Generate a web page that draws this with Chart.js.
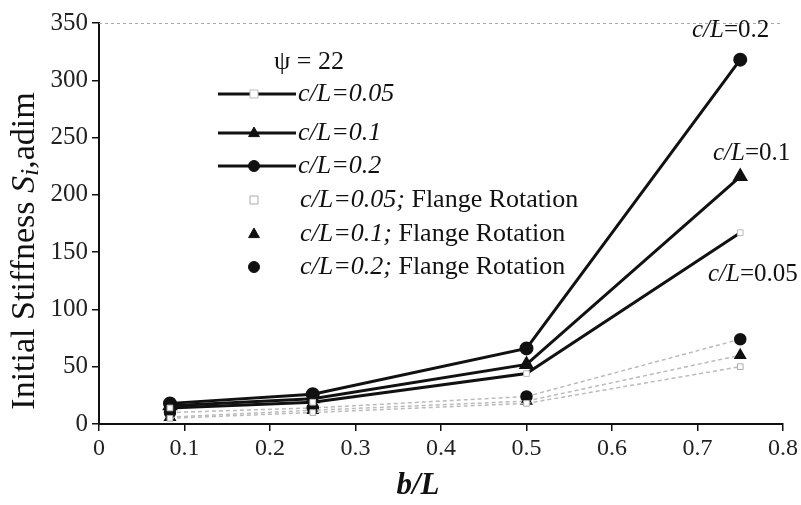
<!DOCTYPE html>
<html>
<head>
<meta charset="utf-8">
<script src="https://cdn.jsdelivr.net/npm/chart.js@4.4.1/dist/chart.umd.min.js"></script>
<style>
  html, body { margin: 0; padding: 0; background: #fff; }
  #wrap { width: 801px; height: 505px; }
</style>
</head>
<body>
<div id="wrap"><canvas id="stiffChart" width="801" height="505"></canvas></div>
<script>
// b/L positions and initial stiffness
const bL = [0.083, 0.25, 0.5, 0.75];
const cL005 = [14, 19, 44, 167];
const cL01 = [16, 22, 52, 216];
const cL02 = [18, 26, 66, 318];
const cL005Flange = [5, 10, 18, 50];
const cL01Flange = [6, 12, 20, 60];
const cL02Flange = [10, 14, 24, 74];
const xTicks = [0, 0.1, 0.2, 0.3, 0.4, 0.5, 0.6, 0.7, 0.8];
const yTicks = [0, 50, 100, 150, 200, 250, 300, 350];

const SERIF = '"Liberation Serif", "DejaVu Serif", serif';

function pts(ys) {
    return bL.map((x, i) => ({ x: x, y: ys[i] }));
}

const datasets = [
    { label: 'c/L=0.05', data: pts(cL005), borderColor: '#111', borderWidth: 3,
      pointStyle: 'rect', pointRadius: 4, pointBackgroundColor: '#fff', pointBorderColor: '#bbb', pointBorderWidth: 1 },
    { label: 'c/L=0.1', data: pts(cL01), borderColor: '#111', borderWidth: 3,
      pointStyle: 'triangle', pointRadius: 6, pointBackgroundColor: '#111', pointBorderColor: '#111' },
    { label: 'c/L=0.2', data: pts(cL02), borderColor: '#111', borderWidth: 3,
      pointStyle: 'circle', pointRadius: 5.5, pointBackgroundColor: '#111', pointBorderColor: '#111' },
    { label: 'c/L=0.05; Flange Rotation', data: pts(cL005Flange), borderColor: '#bbb', borderWidth: 1.5, borderDash: [4, 3],
      pointStyle: 'rect', pointRadius: 4, pointBackgroundColor: '#fff', pointBorderColor: '#aaa', pointBorderWidth: 1 },
    { label: 'c/L=0.1; Flange Rotation', data: pts(cL01Flange), borderColor: '#bbb', borderWidth: 1.5, borderDash: [4, 3],
      pointStyle: 'triangle', pointRadius: 6, pointBackgroundColor: '#111', pointBorderColor: '#111' },
    { label: 'c/L=0.2; Flange Rotation', data: pts(cL02Flange), borderColor: '#bbb', borderWidth: 1.5, borderDash: [4, 3],
      pointStyle: 'circle', pointRadius: 5.5, pointBackgroundColor: '#111', pointBorderColor: '#111' }
];

// end-of-line labels
const endLabels = [
    { text: '0.2', x: 692, y: 30 },
    { text: '0.1', x: 713, y: 153 },
    { text: '0.05', x: 708, y: 274 }
];

// legend, end labels and axis titles drawn by hand (mixed italic / roman text)
const decorations = {
    id: 'decorations',
    afterDraw(chart) {
        const ctx = chart.ctx;
        ctx.save();
        ctx.fillStyle = '#111';
        ctx.textBaseline = 'middle';

        // top border, faint dotted
        ctx.strokeStyle = '#aaa';
        ctx.lineWidth = 1;
        ctx.setLineDash([3, 3]);
        ctx.beginPath();
        ctx.moveTo(chart.chartArea.left, chart.chartArea.top + 0.5);
        ctx.lineTo(chart.chartArea.right, chart.chartArea.top + 0.5);
        ctx.stroke();
        ctx.setLineDash([]);

        // legend title
        ctx.font = '26px ' + SERIF;
        ctx.textAlign = 'left';
        ctx.fillText('\u03C8 = 22', 274, 62);

        const rows = [94, 133, 166, 200, 234, 267];
        datasets.forEach((ds, i) => {
            const y = rows[i];
            if (i < 3) {
                ctx.strokeStyle = '#111';
                ctx.lineWidth = 3;
                ctx.beginPath();
                ctx.moveTo(218, y);
                ctx.lineTo(296, y);
                ctx.stroke();
            }
            drawMarker(ctx, ds, 254, y);
            const parts = ds.label.split(';');
            const tx = i < 3 ? 298 : 300;
            ctx.fillStyle = '#111';
            ctx.font = 'italic 26px ' + SERIF;
            ctx.fillText(parts[0] + (parts.length > 1 ? ';' : ''), tx, y);
            if (parts.length > 1) {
                const w = ctx.measureText(parts[0] + '; ').width;
                ctx.font = '26px ' + SERIF;
                ctx.fillText(parts[1].trim(), tx + w, y);
            }
        });

        endLabels.forEach(e => {
            ctx.font = 'italic 25px ' + SERIF;
            ctx.fillText('c/L', e.x, e.y);
            const w = ctx.measureText('c/L').width;
            ctx.font = '25px ' + SERIF;
            ctx.fillText('=' + e.text, e.x + w, e.y);
        });

        // x title
        ctx.font = 'bold italic 31px ' + SERIF;
        ctx.textAlign = 'center';
        ctx.fillText('b/L', 418, 486);

        // y title
        ctx.translate(25, 251);
        ctx.rotate(-Math.PI / 2);
        const segs = [
            { t: 'Initial Stiffness ', f: '34px ' + SERIF, dy: 0 },
            { t: 'S', f: 'italic 34px ' + SERIF, dy: 0 },
            { t: 'i', f: 'italic 26px ' + SERIF, dy: 6 },
            { t: ',adim', f: '34px ' + SERIF, dy: 0 }
        ];
        let total = 0;
        segs.forEach(s => { ctx.font = s.f; total += ctx.measureText(s.t).width; });
        let cx = -total / 2;
        ctx.textAlign = 'left';
        segs.forEach(s => {
            ctx.font = s.f;
            ctx.fillText(s.t, cx, s.dy);
            cx += ctx.measureText(s.t).width;
        });
        ctx.restore();
    }
};

function drawMarker(ctx, ds, x, y) {
    ctx.save();
    ctx.fillStyle = ds.pointBackgroundColor;
    ctx.strokeStyle = ds.pointBorderColor;
    ctx.lineWidth = 1;
    const r = ds.pointRadius;
    ctx.beginPath();
    if (ds.pointStyle === 'circle') {
        ctx.arc(x, y, r, 0, Math.PI * 2);
    } else if (ds.pointStyle === 'triangle') {
        ctx.moveTo(x, y - r);
        ctx.lineTo(x + r * 0.9, y + r * 0.6);
        ctx.lineTo(x - r * 0.9, y + r * 0.6);
        ctx.closePath();
    } else {
        ctx.rect(x - r, y - r, r * 2, r * 2);
    }
    ctx.fill();
    ctx.stroke();
    ctx.restore();
}

new Chart(document.getElementById('stiffChart'), {
    type: 'line',
    data: { datasets: datasets },
    options: {
        responsive: false,
        animation: false,
        layout: { padding: { top: 23, right: 11, left: 0, bottom: 0 } },
        plugins: {
            legend: { display: false },
            tooltip: { enabled: false }
        },
        scales: {
            x: {
                type: 'linear',
                min: 0,
                max: 0.8,
                afterBuildTicks: s => { s.ticks = xTicks.map(v => ({ value: v })); },
                afterFit: s => { s.height = 81; },
                ticks: {
                    color: '#222',
                    font: { family: SERIF, size: 24 },
                    padding: 3,
                    callback: v => (v === 0 ? '0' : v.toFixed(1))
                },
                grid: { drawOnChartArea: false, tickLength: 7, color: '#111', lineWidth: 1.5 },
                border: { color: '#111', width: 2 }
            },
            y: {
                min: 0,
                max: 350,
                afterBuildTicks: s => { s.ticks = yTicks.map(v => ({ value: v })); },
                afterFit: s => { s.width = 99; },
                ticks: {
                    color: '#222',
                    font: { family: SERIF, size: 25 },
                    padding: 4
                },
                grid: { drawOnChartArea: false, tickLength: 7, color: '#111', lineWidth: 1.5 },
                border: { color: '#111', width: 2 }
            }
        }
    },
    plugins: [decorations]
});
</script>
</body>
</html>
